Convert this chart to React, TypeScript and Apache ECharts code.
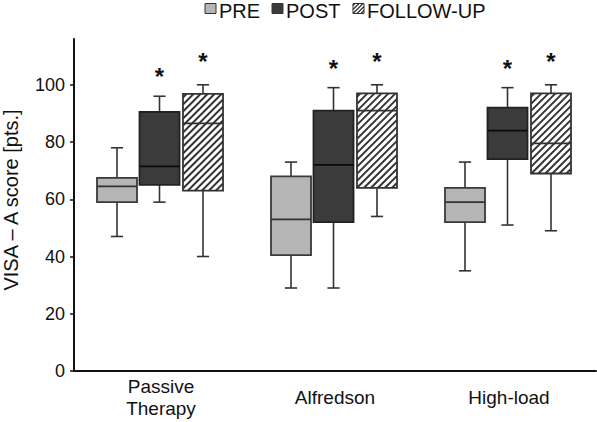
import React, { useEffect, useRef } from 'react';
import * as echarts from 'echarts';

const categories = ['Passive\nTherapy', 'Alfredson', 'High-load'];
const groupNames = ['PRE', 'POST', 'FOLLOW-UP'];
// [min, q1, median, q3, max]
const preValues = [
  [47, 59, 64.5, 67.5, 78],
  [29, 40.5, 53, 68, 73],
  [35, 52, 59, 64, 73],
];
const postValues = [
  [59, 65, 71.5, 90.5, 96],
  [29, 52, 72, 91, 99],
  [51, 74, 84, 92, 99],
];
const followValues = [
  [40, 63, 86.5, 96.8, 100],
  [54, 64, 91, 97, 100],
  [49, 69, 79.5, 97, 100],
];
const postStars = [105, 107.7, 107.7];
const followStars = [110.2, 110.2, 110.2];
const yTicks = [0, 20, 40, 60, 80, 100];

const FONT = 'Liberation Sans, Arial, Helvetica, sans-serif';

function hatchSegments(x0: number, y0: number, w: number, h: number, step: number) {
  const segs: number[][] = [];
  for (let c = x0 + y0 + step / 2; c < x0 + w + y0 + h; c += step) {
    const xa = Math.max(x0, c - y0 - h);
    const xb = Math.min(x0 + w, c - y0);
    if (xb > xa) segs.push([xa, c - xa, xb, c - xb]);
  }
  return segs;
}

type Style = { fill: string; stroke: string; median: string; hatch: boolean; offset: number };

const styles: Style[] = [
  { fill: '#b5b5b5', stroke: '#3a3a3a', median: '#333', hatch: false, offset: -44 / 174 },
  { fill: '#3b3b3b', stroke: '#222', median: '#0a0a0a', hatch: false, offset: -1.5 / 174 },
  { fill: '#ffffff', stroke: '#333', median: '#333', hatch: true, offset: 42 / 174 },
];

function makeRender(st: Style) {
  return (params: any, api: any) => {
    const cat = api.value(0);
    const band = api.size([1, 0])[0];
    const cx = api.coord([cat, 0])[0] + st.offset * band;
    const bw = band * 0.23;
    const cap = band * 0.07;
    const yLow = api.coord([cat, api.value(1)])[1];
    const yQ1 = api.coord([cat, api.value(2)])[1];
    const yMed = api.coord([cat, api.value(3)])[1];
    const yQ3 = api.coord([cat, api.value(4)])[1];
    const yHigh = api.coord([cat, api.value(5)])[1];
    const star = api.value(6);
    const wStyle = { stroke: '#333', lineWidth: 1.6 };
    const children: any[] = [
      { type: 'line', shape: { x1: cx, y1: yHigh, x2: cx, y2: yQ3 }, style: wStyle },
      { type: 'line', shape: { x1: cx - cap / 2, y1: yHigh, x2: cx + cap / 2, y2: yHigh }, style: wStyle },
      { type: 'line', shape: { x1: cx, y1: yQ1, x2: cx, y2: yLow }, style: wStyle },
      { type: 'line', shape: { x1: cx - cap / 2, y1: yLow, x2: cx + cap / 2, y2: yLow }, style: wStyle },
      {
        type: 'rect',
        shape: { x: cx - bw / 2, y: yQ3, width: bw, height: yQ1 - yQ3 },
        style: { fill: st.fill, stroke: 'none' },
      },
    ];
    if (st.hatch) {
      hatchSegments(cx - bw / 2, yQ3, bw, yQ1 - yQ3, 7).forEach((s) => {
        children.push({
          type: 'line',
          shape: { x1: s[0], y1: s[1], x2: s[2], y2: s[3] },
          style: { stroke: '#333', lineWidth: 2 },
        });
      });
    }
    children.push({
      type: 'rect',
      shape: { x: cx - bw / 2, y: yQ3, width: bw, height: yQ1 - yQ3 },
      style: { fill: 'none', stroke: st.stroke, lineWidth: 1.8 },
    });
    children.push({
      type: 'line',
      shape: { x1: cx - bw / 2, y1: yMed, x2: cx + bw / 2, y2: yMed },
      style: { stroke: st.median, lineWidth: 1.8 },
    });
    if (!isNaN(star)) {
      const ys = api.coord([cat, star])[1];
      children.push({
        type: 'text',
        x: cx,
        y: ys + 6,
        style: {
          text: '*',
          font: 'bold 24px ' + FONT,
          fill: '#111',
          align: 'center',
          verticalAlign: 'middle',
        },
      });
    }
    return { type: 'group', children };
  };
}

function buildData(vals: number[][], stars: (number | null)[] | null) {
  return vals.map((v, i) => [i, ...v, stars ? (stars[i] as number) : '-']);
}

export default function App() {
  const ref = useRef<HTMLDivElement>(null);
  useEffect(() => {
    if (!ref.current) return;
    const chart = echarts.init(ref.current, undefined, { renderer: 'svg' });
    const allData = [
      buildData(preValues, null),
      buildData(postValues, postStars),
      buildData(followValues, followStars),
    ];

    const legendX = [205, 272, 353];
    const legendGraphics: any[] = [];
    groupNames.forEach((name, i) => {
      const st = styles[i];
      const x = legendX[i];
      legendGraphics.push({
        type: 'rect',
        shape: { x, y: 3.5, width: 11, height: 10 },
        style: { fill: st.fill, stroke: st.hatch ? 'none' : '#333', lineWidth: 1 },
      });
      if (st.hatch) {
        hatchSegments(x, 3.5, 11, 10, 4).forEach((s) => {
          legendGraphics.push({
            type: 'line',
            shape: { x1: s[0], y1: s[1], x2: s[2], y2: s[3] },
            style: { stroke: '#333', lineWidth: 1.3 },
          });
        });
        legendGraphics.push({
          type: 'rect',
          shape: { x, y: 3.5, width: 11, height: 10 },
          style: { fill: 'none', stroke: '#333', lineWidth: 1 },
        });
      }
      legendGraphics.push({
        type: 'text',
        x: x + 14,
        y: 11,
        style: {
          text: name,
          font: '20px ' + FONT,
          fill: '#111',
          align: 'left',
          verticalAlign: 'middle',
        },
      });
    });

    chart.setOption({
      animation: false,
      backgroundColor: '#ffffff',
      grid: { left: 74, right: 1, top: 39, bottom: 51, containLabel: false, outerBoundsMode: 'none' },
      xAxis: {
        type: 'category',
        data: categories,
        boundaryGap: true,
        axisLine: { lineStyle: { color: '#111', width: 2 } },
        axisTick: { show: false },
        axisLabel: {
          fontFamily: FONT,
          fontSize: 19,
          color: '#111',
          lineHeight: 22,
          verticalAlign: 'middle',
          margin: 26,
          interval: 0,
        },
        splitLine: { show: false },
      },
      yAxis: {
        type: 'value',
        min: 0,
        max: 116,
        name: 'VISA – A score [pts.]',
        nameLocation: 'middle',
        nameGap: 53,
        nameTextStyle: {
          fontFamily: FONT,
          fontSize: 20,
          color: '#111',
          padding: [0, 0, 0, 10],
        },
        axisLine: { show: true, lineStyle: { color: '#111', width: 2 } },
        axisTick: { show: true, inside: false, length: 4, customValues: yTicks, lineStyle: { color: '#111', width: 1.5 } },
        axisLabel: {
          customValues: yTicks,
          fontFamily: FONT,
          fontSize: 18,
          color: '#111',
          margin: 9,
        },
        splitLine: { show: false },
      },
      series: allData.map((d, i) => ({
        type: 'custom',
        name: groupNames[i],
        renderItem: makeRender(styles[i]),
        encode: { x: 0, y: [1, 2, 3, 4, 5] },
        data: d,
        clip: false,
      })),
      graphic: legendGraphics,
    });
    return () => chart.dispose();
  }, []);
  return (
    <div
      ref={ref}
      style={{ position: 'absolute', left: 0, top: 0, width: 597, height: 422 }}
    />
  );
}
